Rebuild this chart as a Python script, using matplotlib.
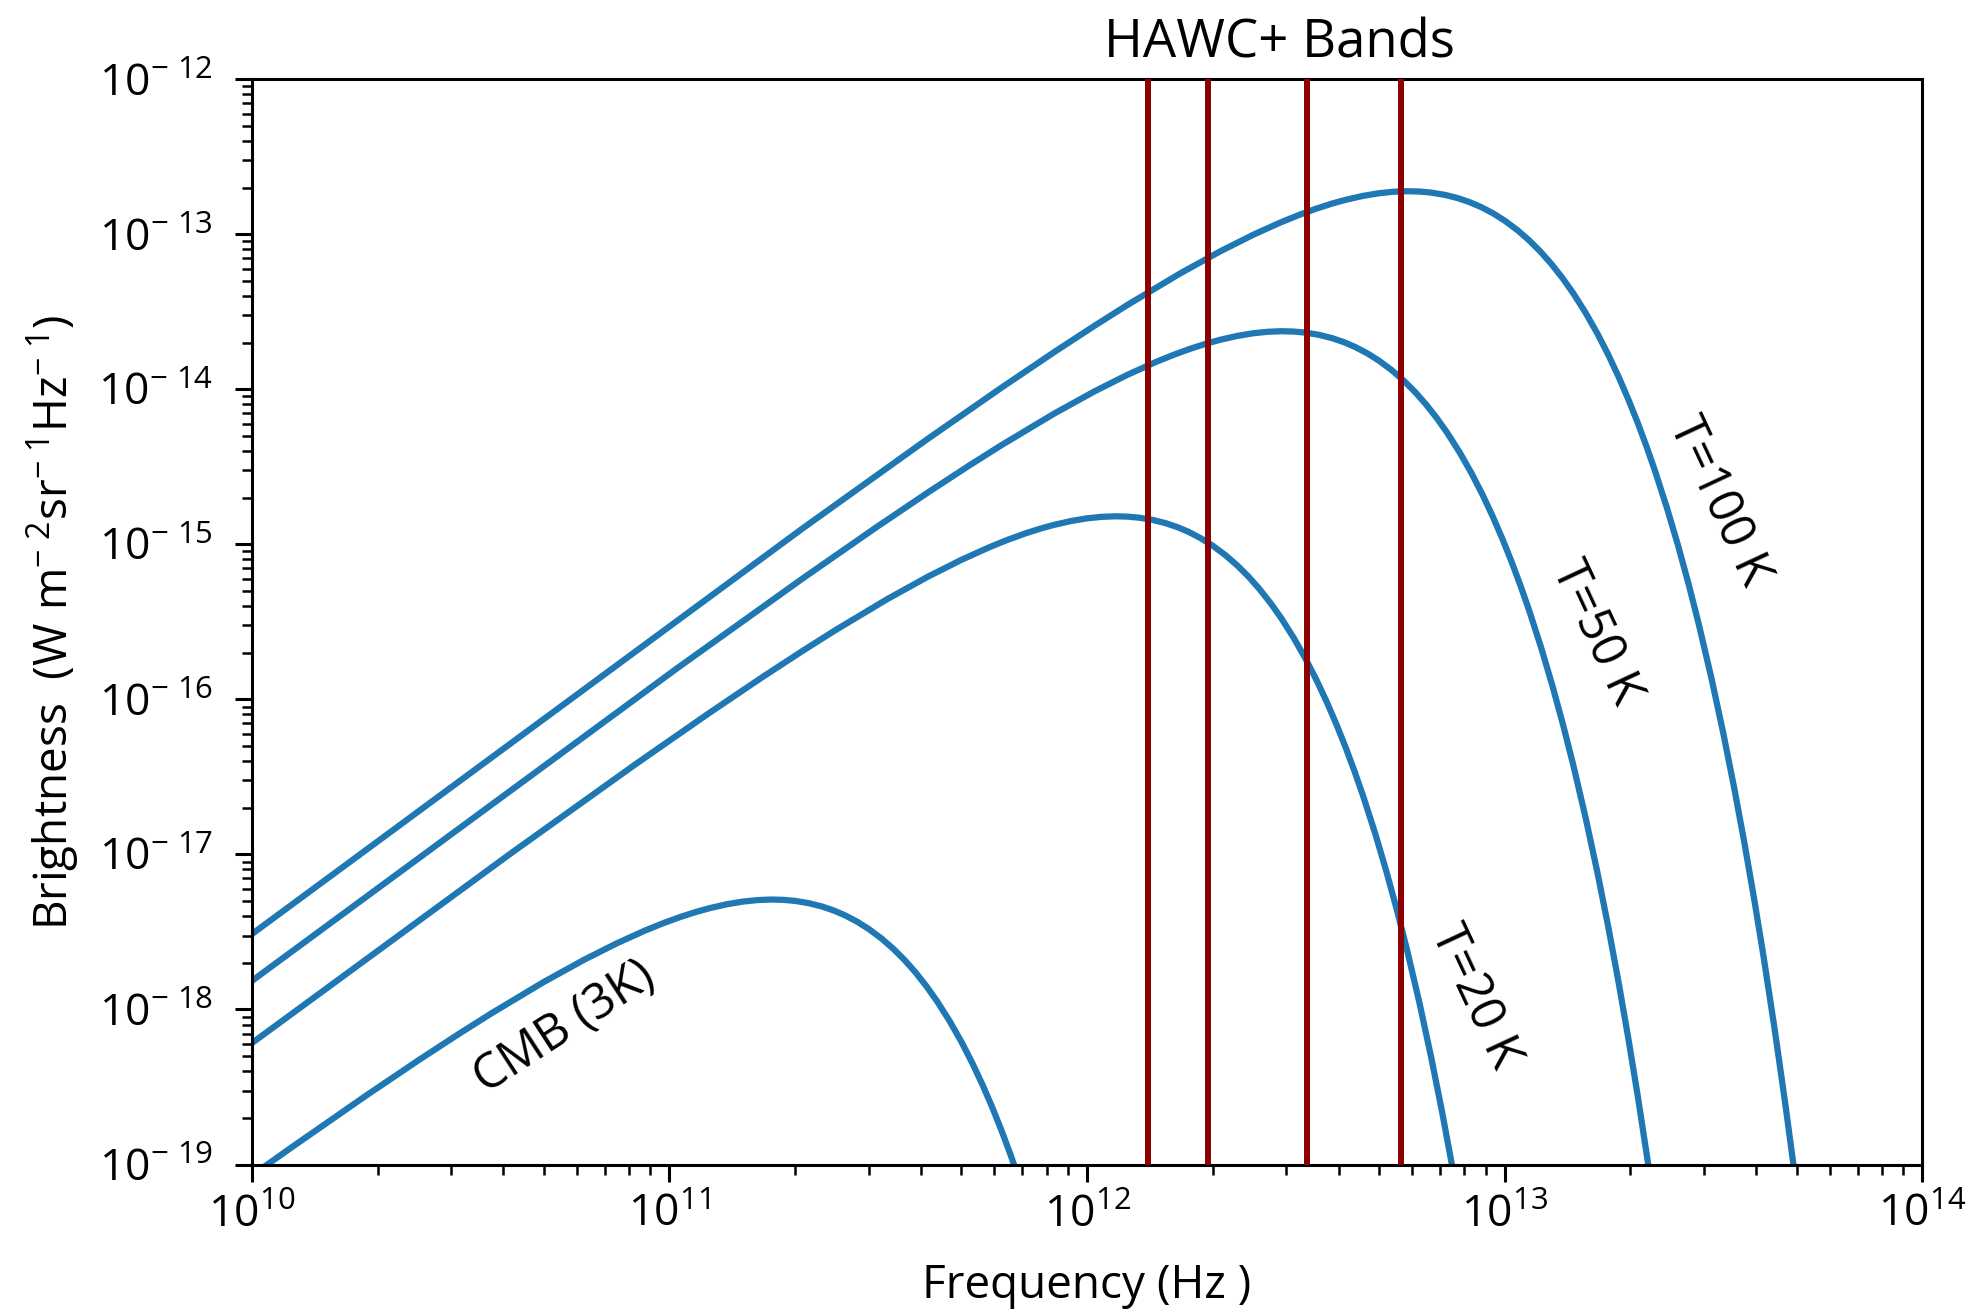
import matplotlib
matplotlib.use('Agg')
import matplotlib.pyplot as plt

# values (Hz, W m^-2 sr^-1 Hz^-1)
freq_100k = [1.0e10, 2.084e11, 4.167e11, 6.251e11, 8.335e11, 1.0418e12, 1.2502e12, 1.6669e12,
             2.0837e12, 2.5004e12, 2.9171e12, 3.2297e12, 3.5422e12, 3.8548e12, 4.1673e12,
             4.5841e12, 5.0008e12, 5.4175e12, 5.8342e12, 6.2510e12, 6.6677e12, 7.1886e12,
             7.7095e12, 8.2305e12, 8.7514e12, 9.3765e12, 1.0002e13, 1.0731e13, 1.1460e13,
             1.2189e13, 1.2919e13, 1.3752e13, 1.4586e13, 1.5628e13, 1.6669e13, 1.7711e13,
             1.8753e13, 1.9795e13, 2.0837e13, 2.1878e13, 2.2920e13, 2.4483e13, 2.6046e13,
             2.7609e13, 2.9171e13, 3.1255e13, 3.3339e13, 3.5422e13, 3.7506e13, 3.9590e13,
             4.1673e13, 4.4278e13, 4.6882e13, 4.9487e13, 5.2092e13]
bright_100k = [3.065e-18, 1.268e-15, 4.820e-15, 1.029e-14, 1.736e-14, 2.570e-14, 3.505e-14, 5.573e-14,
               7.763e-14, 9.935e-14, 1.198e-13, 1.338e-13, 1.465e-13, 1.576e-13, 1.670e-13,
               1.770e-13, 1.840e-13, 1.881e-13, 1.896e-13, 1.887e-13, 1.857e-13, 1.796e-13,
               1.713e-13, 1.614e-13, 1.505e-13, 1.366e-13, 1.224e-13, 1.063e-13, 9.107e-14,
               7.713e-14, 6.465e-14, 5.224e-14, 4.176e-14, 3.114e-14, 2.292e-14, 1.667e-14,
               1.200e-14, 8.561e-15, 6.056e-15, 4.252e-15, 2.965e-15, 1.707e-15, 9.709e-16,
               5.462e-16, 3.044e-16, 1.377e-16, 6.149e-17, 2.713e-17, 1.185e-17, 5.126e-18,
               2.200e-18, 7.559e-19, 2.571e-19, 8.662e-20, 2.895e-20]

freq_50k = [1.0e10, 1.0418e11, 2.0837e11, 3.1255e11, 4.1673e11, 5.2092e11, 6.2510e11, 8.3346e11,
            1.0418e12, 1.2502e12, 1.4586e12, 1.6148e12, 1.7711e12, 1.9274e12, 2.0837e12,
            2.2920e12, 2.5004e12, 2.7088e12, 2.9171e12, 3.1255e12, 3.3339e12, 3.5943e12,
            3.8548e12, 4.1152e12, 4.3757e12, 4.6882e12, 5.0008e12, 5.3654e12, 5.7301e12,
            6.0947e12, 6.4594e12, 6.8761e12, 7.2928e12, 7.8137e12, 8.3346e12, 8.8556e12,
            9.3765e12, 9.8974e12, 1.0418e13, 1.0939e13, 1.1460e13, 1.2242e13, 1.3023e13,
            1.3804e13, 1.4586e13, 1.5628e13, 1.6669e13, 1.7711e13, 1.8753e13, 1.9795e13,
            2.0837e13, 2.2139e13, 2.3441e13]
bright_50k = [1.529e-18, 1.585e-16, 6.025e-16, 1.287e-15, 2.170e-15, 3.213e-15, 4.381e-15, 6.966e-15,
              9.704e-15, 1.242e-14, 1.498e-14, 1.673e-14, 1.831e-14, 1.970e-14, 2.088e-14,
              2.212e-14, 2.300e-14, 2.351e-14, 2.370e-14, 2.359e-14, 2.322e-14, 2.245e-14,
              2.141e-14, 2.018e-14, 1.881e-14, 1.707e-14, 1.530e-14, 1.329e-14, 1.138e-14,
              9.641e-15, 8.081e-15, 6.530e-15, 5.220e-15, 3.893e-15, 2.865e-15, 2.084e-15,
              1.500e-15, 1.070e-15, 7.570e-16, 5.315e-16, 3.707e-16, 2.134e-16, 1.214e-16,
              6.828e-17, 3.805e-17, 1.721e-17, 7.686e-18, 3.391e-18, 1.481e-18, 6.408e-19,
              2.749e-19, 9.448e-20, 3.213e-20]

freq_20k = [1.0e10, 4.1673e10, 8.3346e10, 1.2502e11, 1.6669e11, 2.0837e11, 2.5004e11, 3.3339e11,
            4.1673e11, 5.0008e11, 5.8342e11, 6.4593e11, 7.0844e11, 7.7095e11, 8.3346e11,
            9.1681e11, 1.0002e12, 1.0835e12, 1.1669e12, 1.2502e12, 1.3335e12, 1.4377e12,
            1.5419e12, 1.6461e12, 1.7503e12, 1.8753e12, 2.0003e12, 2.1462e12, 2.2920e12,
            2.4379e12, 2.5837e12, 2.7504e12, 2.9171e12, 3.1255e12, 3.3339e12, 3.5422e12,
            3.7506e12, 3.9590e12, 4.1673e12, 4.3757e12, 4.5841e12, 4.8966e12, 5.2092e12,
            5.5217e12, 5.8342e12, 6.2510e12, 6.6677e12, 7.0844e12, 7.5012e12]
bright_20k = [6.071e-19, 1.015e-17, 3.856e-17, 8.235e-17, 1.389e-16, 2.056e-16, 2.804e-16, 4.458e-16,
              6.210e-16, 7.948e-16, 9.584e-16, 1.071e-15, 1.172e-15, 1.261e-15, 1.336e-15,
              1.416e-15, 1.472e-15, 1.505e-15, 1.517e-15, 1.510e-15, 1.486e-15, 1.437e-15,
              1.370e-15, 1.291e-15, 1.204e-15, 1.092e-15, 9.793e-16, 8.503e-16, 7.285e-16,
              6.170e-16, 5.172e-16, 4.179e-16, 3.341e-16, 2.491e-16, 1.833e-16, 1.334e-16,
              9.602e-17, 6.849e-17, 4.845e-17, 3.402e-17, 2.372e-17, 1.366e-17, 7.767e-18,
              4.370e-18, 2.435e-18, 1.102e-18, 4.919e-19, 2.171e-19, 9.478e-20]

freq_cmb = [1.0e10, 1.2502e10, 1.8753e10, 2.5004e10, 3.1255e10, 3.7506e10, 5.0008e10, 6.2510e10,
            7.5012e10, 8.7514e10, 9.6890e10, 1.0627e11, 1.1564e11, 1.2502e11, 1.3752e11,
            1.5002e11, 1.6253e11, 1.7503e11, 1.8753e11, 2.0003e11, 2.1566e11, 2.3129e11,
            2.4691e11, 2.6254e11, 2.8129e11, 3.0005e11, 3.2193e11, 3.4380e11, 3.6568e11,
            3.8756e11, 4.1257e11, 4.3757e11, 4.6882e11, 5.0008e11, 5.3133e11, 5.6259e11,
            5.9384e11, 6.2510e11, 6.5635e11, 6.8761e11]
bright_cmb = [8.50e-20, 1.301e-19, 2.779e-19, 4.687e-19, 6.940e-19, 9.462e-19, 1.505e-18, 2.096e-18,
              2.682e-18, 3.235e-18, 3.614e-18, 3.955e-18, 4.255e-18, 4.510e-18, 4.779e-18,
              4.967e-18, 5.079e-18, 5.119e-18, 5.095e-18, 5.015e-18, 4.849e-18, 4.625e-18,
              4.358e-18, 4.062e-18, 3.687e-18, 3.305e-18, 2.870e-18, 2.459e-18, 2.083e-18,
              1.746e-18, 1.410e-18, 1.127e-18, 8.408e-19, 6.188e-19, 4.501e-19, 3.241e-19,
              2.312e-19, 1.635e-19, 1.148e-19, 8.01e-20]

# HAWC+ band centres (53, 89, 154, 214 um)
hawc_freqs = [1.40e12, 1.95e12, 3.37e12, 5.66e12]

curve_labels = ['CMB (3K)', 'T=20 K', 'T=50 K', 'T=100 K']
label_pos = [(5.6e10, 7.6e-19), (8.5e12, 1.2e-18), (1.65e13, 2.67e-16), (3.25e13, 1.9e-15)]
label_rot = [33, -65, -65, -65]

xticks = [1e10, 1e11, 1e12, 1e13, 1e14]
xtick_labels = [r'$10^{10}$', r'$10^{11}$', r'$10^{12}$', r'$10^{13}$', r'$10^{14}$']
yticks = [1e-19, 1e-18, 1e-17, 1e-16, 1e-15, 1e-14, 1e-13, 1e-12]
ytick_labels = [r'$10^{-\ %d}$' % n for n in range(19, 11, -1)]

plt.rcParams['font.family'] = ['Open Sans', 'DejaVu Sans']
plt.rcParams['mathtext.fontset'] = 'custom'
plt.rcParams['mathtext.rm'] = 'Open Sans'
plt.rcParams['mathtext.it'] = 'Open Sans:italic'
plt.rcParams['mathtext.bf'] = 'Open Sans:bold'

blue = '#1f77b4'
red = '#8b0000'

fig = plt.figure(figsize=(19.74, 13.12), dpi=100)
ax = fig.add_axes([0.1276, 0.1124, 0.8462, 0.8272])

for f, b in [(freq_100k, bright_100k), (freq_50k, bright_50k), (freq_20k, bright_20k), (freq_cmb, bright_cmb)]:
    ax.plot(f, b, color=blue, lw=4.5, zorder=2, solid_joinstyle='round')

for f in hawc_freqs:
    ax.axvline(f, color=red, lw=4.3, zorder=3)

ax.set_xscale('log')
ax.set_yscale('log')
ax.set_xlim(1e10, 1e14)
ax.set_ylim(1e-19, 1e-12)
ax.set_xticks(xticks)
ax.set_xticklabels(xtick_labels)
ax.set_yticks(yticks)
ax.set_yticklabels(ytick_labels)
ax.tick_params(which='major', length=12, width=2.2, labelsize=32)
ax.tick_params(axis='x', which='major', pad=9)
ax.tick_params(axis='y', which='major', pad=16)
ax.tick_params(which='minor', length=7, width=1.8)
for s in ax.spines.values():
    s.set_linewidth(2.2)

ax.set_xlabel('Frequency (Hz )', fontsize=33, labelpad=18)
ax.set_ylabel(r'Brightness  $(\mathrm{W\ m^{-\ 2}sr^{-\ 1}Hz^{-\ 1}})$', fontsize=33, labelpad=12)
ax.set_title('HAWC+ Bands', fontsize=38, pad=16, x=0.615)

for txt, (x, y), r in zip(curve_labels, label_pos, label_rot):
    ax.text(x, y, txt, rotation=r, fontsize=35, ha='center', va='center', rotation_mode='anchor')

fig.savefig('out.png', dpi=100)
